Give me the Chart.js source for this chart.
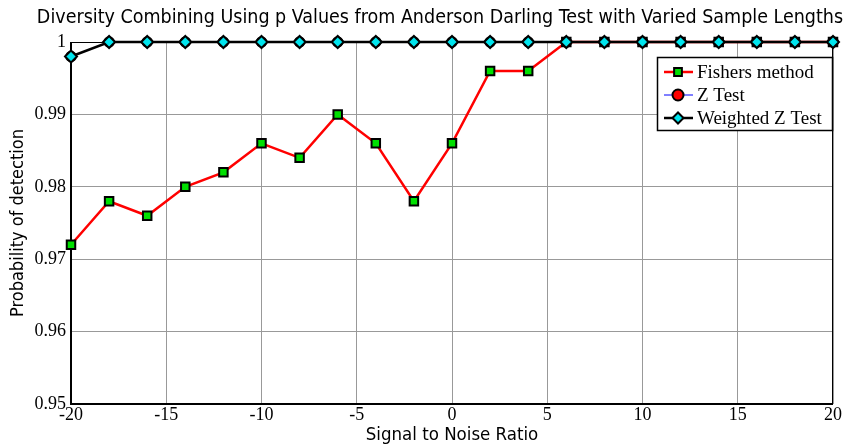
<!DOCTYPE html>
<html><head><meta charset="utf-8">
<script src="https://cdn.jsdelivr.net/npm/chart.js@4"></script>
<style>html,body{margin:0;padding:0;background:#fff}canvas{display:block}</style>
</head><body>
<canvas id="c" width="845" height="446"></canvas>
<script>
const snr = [-20,-18,-16,-14,-12,-10,-8,-6,-4,-2,0,2,4,6,8,10,12,14,16,18,20];
const fishers = [0.972,0.978,0.976,0.980,0.982,0.986,0.984,0.990,0.986,0.978,0.986,0.996,0.996,1,1,1,1,1,1,1,1];
const zTest = [0.998,1,1,1,1,1,1,1,1,1,1,1,1,1,1,1,1,1,1,1,1];
const weightedZ = [0.998,1,1,1,1,1,1,1,1,1,1,1,1,1,1,1,1,1,1,1,1];
const xTicks = [-20,-15,-10,-5,0,5,10,15,20];
const yTicks = [0.95,0.96,0.97,0.98,0.99,1];
const titleText = 'Diversity Combining Using p Values from Anderson Darling Test with Varied Sample Lengths';
const xTitle = 'Signal to Noise Ratio';
const yTitle = 'Probability of detection';

const SANS = '"DejaVu Sans Condensed", "Liberation Sans Narrow", "DejaVu Sans", sans-serif';
const SERIF = '"Liberation Serif", "Times New Roman", serif';

const pts = (ys) => snr.map((x,i)=>({x:x,y:ys[i]}));

const legendItems = [
  {label:'Fishers method', line:'#ff0000', lw:2.5, style:'rect', fill:'#00e000', stroke:'#000'},
  {label:'Z Test', line:'#0000ff', lw:1, style:'circle', fill:'#ff0000', stroke:'#000'},
  {label:'Weighted Z Test', line:'#000000', lw:2.5, style:'rectRot', fill:'#00e5ee', stroke:'#000'}
];

const framePlugin = {
  id:'frame',
  afterDraw(chart){
    const {ctx, chartArea:a} = chart;
    ctx.save();
    // title
    ctx.fillStyle='#000';
    ctx.font='19.5px '+SANS;
    ctx.textAlign='center';
    ctx.textBaseline='middle';
    ctx.fillText(titleText, 440, 18);
    ctx.textAlign='left';
    // legend box
    const lx=657, ly=57, lw=175, lh=73;
    ctx.fillStyle='#fff';
    ctx.fillRect(lx,ly,lw,lh);
    ctx.strokeStyle='#000';
    ctx.lineWidth=1.5;
    ctx.strokeRect(lx+0.5,ly+0.5,lw,lh);
    ctx.font='19px '+SERIF;
    legendItems.forEach((it,i)=>{
      const y = ly+15+i*23;
      ctx.strokeStyle=it.line; ctx.lineWidth=it.lw;
      ctx.beginPath(); ctx.moveTo(lx+7,y); ctx.lineTo(lx+36,y); ctx.stroke();
      ctx.lineWidth=2; ctx.strokeStyle=it.stroke; ctx.fillStyle=it.fill;
      Chart.helpers.drawPoint(ctx,{pointStyle:it.style, radius:5.5, rotation:0, borderWidth:2}, lx+21, y);
      ctx.fillStyle='#000';
      ctx.fillText(it.label, lx+40, y+1);
    });
    ctx.restore();
  },
  beforeDatasetsDraw(chart){
    const {ctx, chartArea:a} = chart;
    ctx.save();
    ctx.strokeStyle='#000';
    ctx.lineWidth=1;
    ctx.strokeRect(a.left+0.5, a.top+0.5, a.right-a.left-1, a.bottom-a.top-1);
    ctx.lineWidth=2;
    ctx.beginPath();
    ctx.moveTo(a.left, a.top); ctx.lineTo(a.left, a.bottom); ctx.lineTo(a.right, a.bottom);
    ctx.stroke();
    ctx.restore();
  }
};

new Chart(document.getElementById('c'), {
  type:'line',
  data:{datasets:[
    {label:'Fishers method', data:pts(fishers), borderColor:'#ff0000', borderWidth:2.5, pointStyle:'rect', pointRadius:6, pointBackgroundColor:'#00e000', pointBorderColor:'#000', pointBorderWidth:2, order:3, clip:false},
    {label:'Z Test', data:pts(zTest), borderColor:'#0000ff', borderWidth:1, pointStyle:'circle', pointRadius:5, pointBackgroundColor:'#ff0000', pointBorderColor:'#000', pointBorderWidth:1.5, order:2, clip:false},
    {label:'Weighted Z Test', data:pts(weightedZ), borderColor:'#000000', borderWidth:2.5, pointStyle:'rectRot', pointRadius:6, pointBackgroundColor:'#00e5ee', pointBorderColor:'#000', pointBorderWidth:2, order:1, clip:false}
  ]},
  options:{
    responsive:false, animation:false, devicePixelRatio:1,
    layout:{padding:{left:0,right:12,top:42,bottom:0}},
    plugins:{
      legend:{display:false}, tooltip:{enabled:false}, title:{display:false}
    },
    scales:{
      x:{type:'linear', min:-20, max:20,
        afterBuildTicks(s){ s.ticks = xTicks.map(v=>({value:v})); },
        afterFit(s){ s.height = 42; },
        grid:{color:'#999', lineWidth:1, drawTicks:false},
        border:{display:false},
        ticks:{color:'#000', font:{family:SERIF, size:18}, padding:0, maxRotation:0, autoSkip:false},
        title:{display:true, text:xTitle, color:'#000', font:{family:SANS, size:18.5}, padding:{top:0,bottom:0}}
      },
      y:{type:'linear', min:0.95, max:1,
        afterBuildTicks(s){ s.ticks = yTicks.map(v=>({value:v})); },
        afterFit(s){ s.width = 71; },
        grid:{color:'#999', lineWidth:1, drawTicks:false},
        border:{display:false},
        ticks:{color:'#000', font:{family:SERIF, size:18}, padding:5, autoSkip:false, callback:(v)=>String(Number(v.toFixed(2)))},
        title:{display:true, text:yTitle, color:'#000', font:{family:SANS, size:18}, padding:{top:8,bottom:2}}
      }
    }
  },
  plugins:[framePlugin]
});
</script>
</body></html>
